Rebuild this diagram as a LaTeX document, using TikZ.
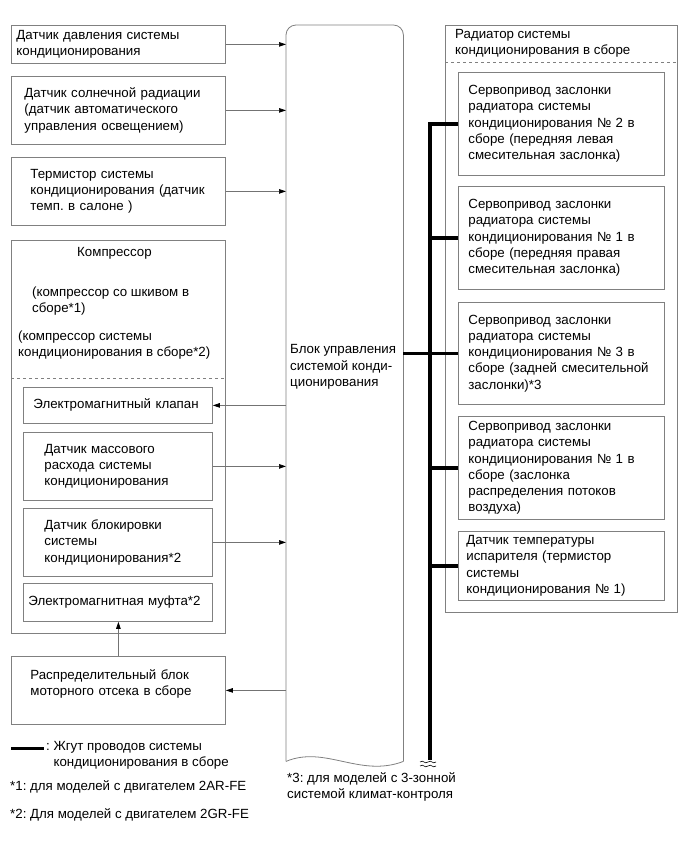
\documentclass[tikz,border=0pt]{standalone}
\usepackage{fontspec}
\setmainfont{Liberation Sans}
\usepackage{tikz}
\usetikzlibrary{positioning, arrows.meta}
\frenchspacing

\newcommand{\boxfont}{\fontsize{13.3}{16.3}\selectfont}

\begin{document}
\begin{tikzpicture}[
        x=1pt, y=-1pt,
        >={Triangle[length=7pt, width=4.5pt, color=black]},
        box/.style={draw=black!50, line width=0.8pt, anchor=north west,
          align=left, font=\boxfont, inner ysep=0pt},
        note/.style={font=\boxfont, align=left, inner sep=0pt, anchor=west},
        sig/.style={->, draw=black!55, line width=0.7pt},
        sep/.style={draw=black!50, line width=0.7pt, dashed},
        harness/.style={line width=3.5pt},
      ]
      \useasboundingbox (0,0) rectangle (689,854);

      % Входные датчики
      \node[box, minimum width=214pt, minimum height=38pt, inner xsep=5pt, text width=204pt]
        (p1) at (11,25) {Датчик давления системы\\кондиционирования};
      \node[box, minimum width=214pt, minimum height=68pt, inner xsep=13pt, text width=188pt]
        (p2) at (11,76) {Датчик солнечной радиации\\(датчик автоматического\\управления освещением)};
      \node[box, minimum width=214pt, minimum height=68pt, inner xsep=19pt, text width=176pt]
        (p3) at (11,157) {Термистор системы\\кондиционирования (датчик\\темп. в салоне )};

      % Компрессор
      \node[box, minimum width=214pt, minimum height=393pt] (comp) at (11,240) {};
      \node[note] (compname) at (77,253) {Компрессор};
      \node[note] (comp1) at (32,301) {(компрессор со шкивом в\\сборе*1)};
      \node[note] (comp2) at (18,345) {(компрессор системы\\кондиционирования в сборе*2)};
      \draw[sep] ([yshift=-138pt]comp.north west) -- ([yshift=-138pt]comp.north east);
      \node[box, minimum width=189pt, minimum height=36pt, inner xsep=10pt, text width=169pt]
        (valve) at (23,387) {Электромагнитный клапан};
      \node[box, minimum width=189pt, minimum height=68pt, inner xsep=21pt, text width=147pt]
        (maf) at (23,432) {Датчик массового\\расхода системы\\кондиционирования};
      \node[box, minimum width=189pt, minimum height=68pt, inner xsep=21pt, text width=147pt]
        (lock) at (23,508) {Датчик блокировки\\системы\\кондиционирования*2};
      \node[box, minimum width=189pt, minimum height=38pt, inner xsep=5pt, text width=179pt]
        (clutch) at (23,583) {Электромагнитная муфта*2};

      % Распределительный блок
      \node[box, minimum width=214pt, minimum height=68pt, inner xsep=19pt, text width=176pt]
        (relay) at (11,656) {Распределительный блок\\моторного отсека в сборе\\\mbox{}};

      % Блок управления
      \node[minimum width=117pt, minimum height=736pt, inner sep=0pt, anchor=north west]
        (ecu) at (286,25) {};
      \draw[draw=black!50, line width=0.8pt, rounded corners=10pt]
        (ecu.south west) -- (ecu.north west) -- (ecu.north east) -- (ecu.south east);
      \draw[draw=black!50, line width=0.8pt]
        (ecu.south east) .. controls (360,778) and (325,745) .. (ecu.south west);
      \node[note] (ecutext) at (290,367) {Блок управления\\системой конди-\\ционирования};

      % Радиатор
      \node[box, minimum width=232pt, minimum height=587pt] (rad) at (445,25) {};
      \node[note] (radtext) at (455,43) {Радиатор системы\\кондиционирования в сборе};
      \draw[sep] ([yshift=-37pt]rad.north west) -- ([yshift=-37pt]rad.north east);
      \node[box, minimum width=206pt, minimum height=103pt, inner xsep=10pt, text width=186pt]
        (sa) at (458,72) {Сервопривод заслонки\\радиатора системы\\кондиционирования № 2 в\\сборе (передняя левая\\смесительная заслонка)};
      \node[box, minimum width=206pt, minimum height=103pt, inner xsep=10pt, text width=186pt]
        (sb) at (458,186) {Сервопривод заслонки\\радиатора системы\\кондиционирования № 1 в\\сборе (передняя правая\\смесительная заслонка)};
      \node[box, minimum width=206pt, minimum height=102pt, inner xsep=10pt, text width=186pt]
        (sc) at (458,302) {Сервопривод заслонки\\радиатора системы\\кондиционирования № 3 в\\сборе (задней смесительной\\заслонки)*3};
      \node[box, minimum width=206pt, minimum height=103pt, inner xsep=10pt, text width=186pt]
        (sd) at (458,416) {Сервопривод заслонки\\радиатора системы\\кондиционирования № 1 в\\сборе (заслонка\\распределения потоков\\воздуха)};
      \node[box, minimum width=206pt, minimum height=69pt, inner xsep=8pt, text width=190pt]
        (se) at (458,531) {Датчик температуры\\испарителя (термистор\\системы\\кондиционирования № 1)};

      % Сигналы
      \draw[sig] (p1.east) -- (p1.east -| ecu.west);
      \draw[sig] (p2.east) -- (p2.east -| ecu.west);
      \draw[sig] (p3.east) -- (p3.east -| ecu.west);
      \draw[sig] (valve.east -| ecu.west) -- (valve.east);
      \draw[sig] (maf.east) -- (maf.east -| ecu.west);
      \draw[sig] (lock.east) -- (lock.east -| ecu.west);
      \draw[sig] (relay.east -| ecu.west) -- (relay.east);
      \draw[sig] (relay.north) -- (relay.north |- clutch.south);

      % Жгут
      \coordinate (hend) at (430,760);
      \draw[harness] (sa.west) -| (hend);
      \draw[harness] (sb.west) -- (sb.west -| hend);
      \draw[harness] (sd.west) -- (sd.west -| hend);
      \draw[harness] (se.west) -- (se.west -| hend);
      \draw[harness] (sc.west -| ecu.east) -- (sc.west);
      \draw[line width=0.6pt] ([xshift=-10pt,yshift=-2pt]hend) .. controls +(4,-3) and +(-4,3) .. ++(8,0)
        .. controls +(4,-3) and +(-4,3) .. ++(8,0);
      \draw[line width=0.6pt] ([xshift=-10pt,yshift=-6pt]hend) .. controls +(4,-3) and +(-4,3) .. ++(8,0)
        .. controls +(4,-3) and +(-4,3) .. ++(8,0);

      % Примечания
      \coordinate (lg) at (11,748);
      \draw[harness, line width=3pt] (lg) -- ++(33,0) coordinate (lgend);
      \node[note] (lgtext) at ([xshift=2pt,yshift=-7.5pt]lgend)
        {: Жгут проводов системы\\\hphantom{:\ }кондиционирования в сборе};
      \node[note] (n1) at (10,787) {*1: для моделей с двигателем 2AR-FE};
      \node[note] (n2) at (10,815) {*2: Для моделей с двигателем 2GR-FE};
      \node[note] (n3) at (287,787) {*3: для моделей с 3-зонной\\системой климат-контроля};

    \end{tikzpicture}
\end{document}
